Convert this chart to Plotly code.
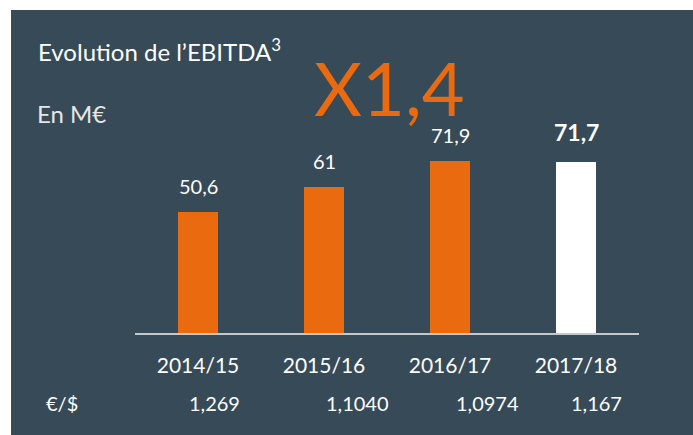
import plotly.graph_objects as go

# Données
periodes = ["2014/15", "2015/16", "2016/17", "2017/18"]
ebitda = [50.6, 61, 71.9, 71.7]
labels_ebitda = ["50,6", "61", "71,9", "71,7"]
taux_change = ["1,269", "1,1040", "1,0974", "1,167"]

BG = "#364a57"
ORANGE = "#e96a0f"
FONT = "Lato"

couleurs = [ORANGE, ORANGE, ORANGE, "white"]

fig = go.Figure()

fig.add_trace(go.Bar(
    x=periodes,
    y=ebitda,
    marker=dict(color=couleurs, line=dict(width=0)),
    width=0.317,
    hoverinfo="skip",
))

# Etiquettes de valeurs au-dessus des barres
for i, (p, v, lab) in enumerate(zip(periodes, ebitda, labels_ebitda)):
    last = i == len(periodes) - 1
    fig.add_annotation(
        x=p, y=v, xref="x", yref="y",
        text=f"<b>{lab}</b>" if last else lab,
        showarrow=False, yanchor="bottom", yshift=14 if last else 12,
        font=dict(family=FONT, size=23 if last else 20, color="white"),
    )

# Ligne €/$ (décalée vers la droite comme dans un tableau)
decalages = [0.127, 0.262, 0.30, 0.159]
for i, (t, d) in enumerate(zip(taux_change, decalages)):
    fig.add_annotation(
        x=i + d, y=-0.216, xref="x", yref="paper",
        text=t, showarrow=False, xanchor="center", yanchor="middle",
        font=dict(family=FONT, size=20, color="white"),
    )

fig.add_annotation(x=-0.145, y=-0.216, xref="paper", yref="paper", text="€/$",
                   showarrow=False, xanchor="center", yanchor="middle",
                   font=dict(family=FONT, size=20, color="white"))

# Titres
fig.add_annotation(x=-0.196, y=0.875, xref="paper", yref="paper",
                   text="Evolution de l’EBITDA<sup>3</sup>", showarrow=False,
                   xanchor="left", yanchor="middle",
                   font=dict(family=FONT, size=24, color="white"))
fig.add_annotation(x=-0.198, y=0.68, xref="paper", yref="paper",
                   text="En M€", showarrow=False, xanchor="left", yanchor="middle",
                   font=dict(family=FONT, size=24, color="#e6e6e6"))
fig.add_annotation(x=0.505, y=0.76, xref="paper", yref="paper",
                   text="X1,4", showarrow=False, xanchor="center", yanchor="middle",
                   font=dict(family=FONT, size=74, color=ORANGE))

# Panneau sombre
fig.add_shape(type="rect", xref="paper", yref="paper",
              x0=-0.246, x1=1.2, y0=-0.4, y1=1.0,
              fillcolor=BG, line=dict(width=0), layer="below")

fig.update_xaxes(
    showline=True, linecolor="#c4c8cb", linewidth=2,
    showgrid=False, zeroline=False, ticks="",
    ticklabelstandoff=13,
    tickfont=dict(family=FONT, size=21, color="white"),
    range=[-0.5, 3.5],
)
fig.update_yaxes(visible=False, range=[0, 135.1])

fig.update_layout(
    width=693, height=435,
    margin=dict(l=135, r=54, t=10, b=102),
    paper_bgcolor="white",
    plot_bgcolor=BG,
    showlegend=False,
    bargap=0,
)

fig.write_html("out.html", config={"displayModeBar": False},
               post_script="document.body.style.margin='0';")
